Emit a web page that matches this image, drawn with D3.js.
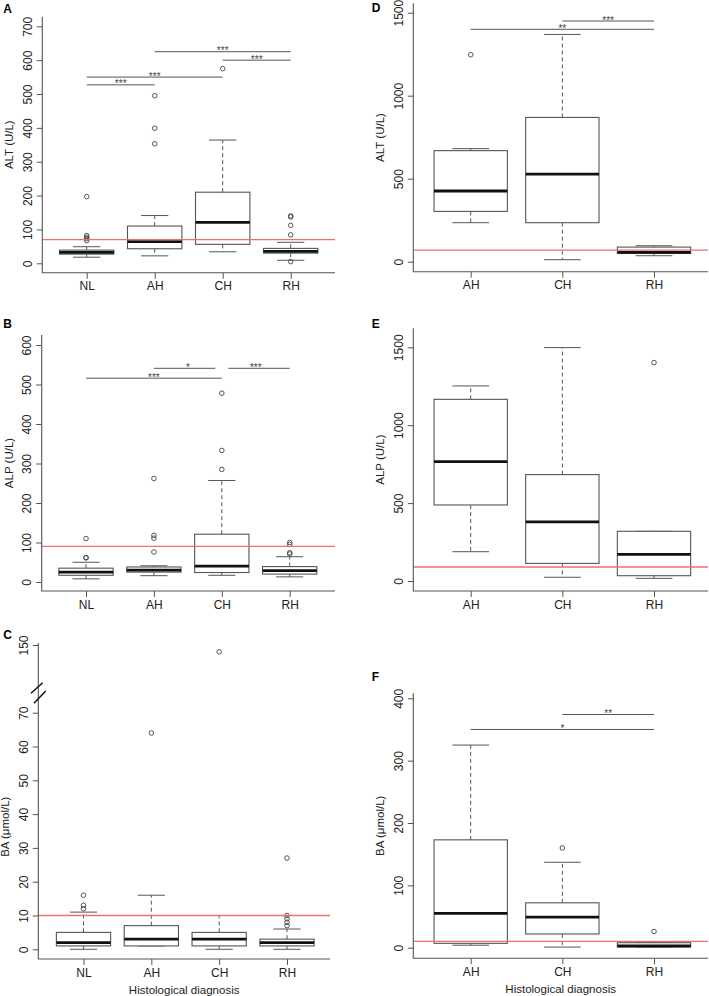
<!DOCTYPE html>
<html><head><meta charset="utf-8">
<script src="https://cdn.jsdelivr.net/npm/d3@7"></script>
<style>
body{margin:0;background:#fff}
svg{display:block}
text{font-family:"Liberation Sans",Arial,Helvetica,sans-serif}
</style>
</head><body>
<svg id="chart" width="709" height="996"></svg>
<script>
// ---------- DATA ----------
const catsLeft = ["NL", "AH", "CH", "RH"];
const catsRight = ["AH", "CH", "RH"];
// box stats: [lower whisker, Q1, median, Q3, upper whisker]
const altLeftStats = [[18, 27, 32, 39, 49], [22, 43, 64, 110, 141], [34, 56, 121, 210, 364], [9, 30, 35, 44, 62]];
const altLeftOutliers = [[197, 82, 77, 73, 67], [495, 399, 353], [575], [5, 140, 137, 112, 84]];
const alpLeftStats = [[8, 17, 25, 35, 50], [16, 25, 30, 38, 41], [17, 24, 40, 121, 257], [13, 20, 29, 39, 64]];
const alpLeftOutliers = [[110, 62, 61], [262, 118, 111, 76], [478, 333, 285], [100, 95, 74, 71]];
const baLeftStats = [[0, 1, 2, 5, 11], [1, 1, 3, 7, 16], [0, 1, 3, 5, 10], [0, 1, 2, 3, 6]];
const baLeftOutliers = [[16, 13, 12], [64], [148], [27, 10, 9, 8, 7]];
const altRightStats = [[235, 303, 426, 669, 681], [12, 235, 528, 869, 1369], [36, 50, 56, 88, 96]];
const altRightOutliers = [[1247], [], []];
const alpRightStats = [[188, 488, 766, 1166, 1252], [24, 113, 379, 683, 1498], [17, 34, 171, 319, 319]];
const alpRightOutliers = [[], [], [1402]];
const baRightStats = [[4, 7, 55, 173, 325], [1, 22, 49, 72, 137], [1, 1, 3, 8, 8]];
const baRightOutliers = [[], [160], [26]];

const refALT = 70, refALP = 90, refBA = 10;

const ticksALTLeft = [0, 100, 200, 300, 400, 500, 600, 700];
const ticksALPLeft = [0, 100, 200, 300, 400, 500, 600];
const ticksBALeft = [0, 10, 20, 30, 40, 50, 60, 70, 150];
const ticksRight1500 = [0, 500, 1000, 1500];
const ticksBARight = [0, 100, 200, 300, 400];

// significance: [from, to, value, label]
const sigA = [["NL", "AH", 527, "***"], ["NL", "CH", 550, "***"], ["CH", "RH", 600, "***"], ["AH", "RH", 625, "***"]];
const sigB = [["NL", "CH", 516, "***"], ["AH", "CH", 541, "*"], ["CH", "RH", 541, "***"]];
const sigD = [["AH", "RH", 1400, "**"], ["CH", "RH", 1450, "***"]];
const sigF = [["AH", "RH", 350, "*"], ["CH", "RH", 374, "**"]];

const titleALT = "ALT (U/L)", titleALP = "ALP (U/L)", titleBA = "BA (μmol/L)";
const xTitle = "Histological diagnosis";

// ---------- LAYOUT ----------
const panels = [
  {letter: "A", lx: 3.3, ly: 12.7, cats: catsLeft, stats: altLeftStats, outl: altLeftOutliers, ref: refALT, ticks: ticksALTLeft, sig: sigA, title: titleALT,
   axisX: 42.3, right: 335, top: 16.7, bottom: 272.7, yDom: [0, 700], yRng: [263.3, 26.3], x1: 86.7, xn: 290.7},
  {letter: "B", lx: 3.3, ly: 328.3, cats: catsLeft, stats: alpLeftStats, outl: alpLeftOutliers, ref: refALP, ticks: ticksALPLeft, sig: sigB, title: titleALP,
   axisX: 41.7, right: 335, top: 335, bottom: 591, yDom: [0, 600], yRng: [582, 345], x1: 86, xn: 289.7},
  {letter: "C", lx: 3.3, ly: 639.3, cats: catsLeft, stats: baLeftStats, outl: baLeftOutliers, ref: refBA, ticks: ticksBALeft, sig: [], title: titleBA,
   axisX: 38.3, right: 330, top: 643, bottom: 959, yDom: [0, 70, 140, 150], yRng: [949.3, 712.7, 678.9, 645], x1: 83.5, xn: 287,
   titleCenter: 826.7, breakY: 692, xTitle: true},
  {letter: "D", lx: 371.7, ly: 12.3, cats: catsRight, stats: altRightStats, outl: altRightOutliers, ref: refALT, ticks: ticksRight1500, sig: sigD, title: titleALT,
   axisX: 413.3, right: 708, top: 3.3, bottom: 271.7, yDom: [0, 1500], yRng: [261.7, 12.7], x1: 470.7, xn: 654},
  {letter: "E", lx: 371.7, ly: 328.3, cats: catsRight, stats: alpRightStats, outl: alpRightOutliers, ref: refALP, ticks: ticksRight1500, sig: [], title: titleALP,
   axisX: 413.3, right: 708, top: 328.3, bottom: 591, yDom: [0, 1500], yRng: [581, 347.3], x1: 470.7, xn: 654},
  {letter: "F", lx: 371.7, ly: 681, cats: catsRight, stats: baRightStats, outl: baRightOutliers, ref: refBA, ticks: ticksBARight, sig: sigF, title: titleBA,
   axisX: 413.3, right: 708, top: 693.3, bottom: 958.3, yDom: [0, 400], yRng: [947.7, 698.3], x1: 470.7, xn: 654, xTitle: true}
];

const svg = d3.select("#chart");
const LINE = "#555";
const TXT = "#222";
const REF = "#ee6f6f";

function drawPanel(p) {
  const g = svg.append("g");
  const y = d3.scaleLinear().domain(p.yDom).range(p.yRng);
  const x = d3.scalePoint().domain(p.cats).range([p.x1, p.xn]);
  const step = x.step();
  const bw = step * 0.8;
  const cap = bw * 0.5;

  // boxes
  p.cats.forEach((c, i) => {
    const [lo, q1, med, q3, hi] = p.stats[i];
    const cx = x(c);
    const bg = g.append("g");
    bg.append("line").attr("x1", cx).attr("x2", cx).attr("y1", y(q3)).attr("y2", y(hi))
      .attr("stroke", LINE).attr("stroke-dasharray", "4,3");
    bg.append("line").attr("x1", cx).attr("x2", cx).attr("y1", y(q1)).attr("y2", y(lo))
      .attr("stroke", LINE).attr("stroke-dasharray", "4,3");
    [lo, hi].forEach(v => {
      bg.append("line").attr("x1", cx - cap / 2).attr("x2", cx + cap / 2).attr("y1", y(v)).attr("y2", y(v))
        .attr("stroke", LINE);
    });
    bg.append("rect").attr("x", cx - bw / 2).attr("width", bw).attr("y", y(q3)).attr("height", Math.max(0, y(q1) - y(q3)))
      .attr("fill", "#fff").attr("stroke", LINE).attr("stroke-width", 1.1);
    bg.append("line").attr("x1", cx - bw / 2).attr("x2", cx + bw / 2).attr("y1", y(med)).attr("y2", y(med))
      .attr("stroke", "#111").attr("stroke-width", 2.8);
    bg.selectAll("circle").data(p.outl[i]).join("circle")
      .attr("cx", cx).attr("cy", d => y(d)).attr("r", 2.3)
      .attr("fill", "none").attr("stroke", "#444").attr("stroke-width", 0.9);
  });

  // reference line
  const ry = y(p.ref);
  g.append("line").attr("x1", p.axisX).attr("x2", p.right).attr("y1", ry).attr("y2", ry)
    .attr("stroke", REF).attr("stroke-width", 1.3);

  // significance bars
  p.sig.forEach(s => {
    let xa = x(s[0]), xb = x(s[1]);
    const others = p.sig.filter(o => o !== s && o[2] === s[2]);
    if (others.some(o => o[0] === s[0] || o[1] === s[0])) xa += 6.5;
    if (others.some(o => o[0] === s[1] || o[1] === s[1])) xb -= 6.5;
    g.append("line").attr("x1", xa).attr("x2", xb).attr("y1", y(s[2])).attr("y2", y(s[2]))
      .attr("stroke", LINE).attr("stroke-width", 1);
    g.append("text").attr("x", (x(s[0]) + x(s[1])) / 2).attr("y", y(s[2]) + 2.5)
      .attr("text-anchor", "middle").attr("font-size", 10).attr("fill", "#444").text(s[3]);
  });

  // y axis
  const ya = g.append("g").attr("transform", `translate(${p.axisX},0)`)
    .call(d3.axisLeft(y).tickValues(p.ticks).tickSize(5.5).tickFormat(d3.format("d")));
  ya.select(".domain").remove();
  ya.selectAll(".tick line").attr("stroke", LINE);
  ya.selectAll(".tick text").attr("x", 0).attr("y", -10.8).attr("dy", null)
    .attr("transform", "rotate(-90)").attr("text-anchor", "middle")
    .attr("font-size", 12).attr("fill", TXT).attr("font-family", "Liberation Sans, Arial, sans-serif");

  // x axis
  const xa = g.append("g").attr("transform", `translate(0,${p.bottom})`)
    .call(d3.axisBottom(x).tickSize(6).tickPadding(0));
  xa.select(".domain").remove();
  xa.selectAll(".tick line").attr("stroke", LINE);
  xa.selectAll(".tick text").attr("y", 17.7).attr("dy", null)
    .attr("font-size", 12).attr("fill", TXT).attr("font-family", "Liberation Sans, Arial, sans-serif");

  // L-shaped frame
  g.append("path").attr("d", `M${p.axisX},${p.top}V${p.bottom}H${p.right}`)
    .attr("fill", "none").attr("stroke", LINE).attr("stroke-width", 1.1);

  // axis break
  if (p.breakY) {
    const ax = p.axisX, by = p.breakY;
    g.append("line").attr("x1", ax - 7.3).attr("y1", by + 1.3).attr("x2", ax + 4.4).attr("y2", by - 9.3)
      .attr("stroke", "#111").attr("stroke-width", 1.5);
    g.append("line").attr("x1", ax - 4.3).attr("y1", by + 11.3).attr("x2", ax + 7.4).attr("y2", by - 1)
      .attr("stroke", "#111").attr("stroke-width", 1.5);
  }

  // y title
  const tc = p.titleCenter || (p.top + p.bottom) / 2;
  g.append("text").attr("transform", `translate(${p.axisX - 29},${tc}) rotate(-90)`)
    .attr("text-anchor", "middle").attr("font-size", 11.5).attr("fill", TXT).text(p.title);

  // x title
  if (p.xTitle) {
    g.append("text").attr("x", (p.axisX + p.right) / 2).attr("y", p.bottom + 34.5)
      .attr("text-anchor", "middle").attr("font-size", 11.5).attr("fill", TXT).text(xTitle);
  }

  // panel letter
  g.append("text").attr("x", p.lx).attr("y", p.ly).attr("font-size", 12).attr("font-weight", "bold")
    .attr("fill", "#000").text(p.letter);
}

panels.forEach(drawPanel);
</script>
</body></html>
